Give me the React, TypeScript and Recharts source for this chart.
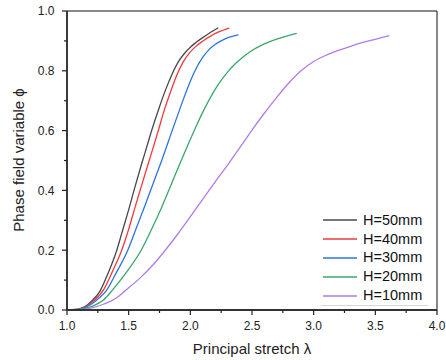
import React from 'react';
import { LineChart, Line, XAxis, YAxis, ReferenceArea, Legend } from 'recharts';

// stretch (x) and phase field (y), one pair of arrays per height
const h50X = [1.0, 1.08, 1.15, 1.2, 1.27, 1.33, 1.403, 1.45, 1.506, 1.55, 1.606, 1.65, 1.687, 1.75, 1.8, 1.85, 1.9, 1.95, 2.0, 2.05, 2.1, 2.15, 2.227];
const h50Y = [0, 0.002, 0.012, 0.03, 0.065, 0.12, 0.199, 0.265, 0.344, 0.41, 0.49, 0.55, 0.601, 0.68, 0.737, 0.787, 0.828, 0.857, 0.879, 0.896, 0.911, 0.925, 0.944];

const h40X = [1.0, 1.08, 1.15, 1.2, 1.3, 1.37, 1.443, 1.5, 1.552, 1.6, 1.659, 1.741, 1.79, 1.84, 1.89, 1.94, 1.99, 2.04, 2.1, 2.16, 2.23, 2.316];
const h40Y = [0, 0.002, 0.01, 0.025, 0.07, 0.13, 0.199, 0.27, 0.344, 0.41, 0.49, 0.601, 0.67, 0.73, 0.785, 0.828, 0.858, 0.88, 0.899, 0.915, 0.93, 0.943];

const h30X = [1.0, 1.08, 1.15, 1.2, 1.26, 1.319, 1.4, 1.492, 1.56, 1.633, 1.7, 1.768, 1.857, 1.9, 1.95, 2.0, 2.05, 2.1, 2.15, 2.2, 2.25, 2.3, 2.39];
const h30Y = [0, 0.002, 0.009, 0.02, 0.04, 0.065, 0.125, 0.199, 0.272, 0.35, 0.425, 0.5, 0.605, 0.655, 0.712, 0.765, 0.81, 0.845, 0.87, 0.888, 0.9, 0.91, 0.92];

const h20X = [1.0, 1.1, 1.2, 1.3, 1.365, 1.48, 1.6, 1.68, 1.768, 1.84, 1.916, 1.98, 2.052, 2.1, 2.15, 2.2, 2.25, 2.3, 2.36, 2.42, 2.5, 2.6, 2.7, 2.78, 2.863];
const h20Y = [0, 0.002, 0.012, 0.035, 0.065, 0.125, 0.199, 0.265, 0.344, 0.415, 0.49, 0.552, 0.619, 0.661, 0.701, 0.737, 0.768, 0.795, 0.822, 0.844, 0.868, 0.89, 0.906, 0.916, 0.925];

const h10X = [1.0, 1.1, 1.2, 1.3, 1.4, 1.473, 1.6, 1.7, 1.795, 1.9, 2.0, 2.1, 2.2, 2.3, 2.4, 2.5, 2.6, 2.7, 2.8, 2.9, 3.0, 3.1, 3.2, 3.3, 3.43, 3.614];
const h10Y = [0, 0.001, 0.007, 0.02, 0.04, 0.065, 0.11, 0.152, 0.199, 0.255, 0.312, 0.37, 0.428, 0.484, 0.542, 0.602, 0.658, 0.711, 0.76, 0.801, 0.831, 0.852, 0.868, 0.882, 0.898, 0.918];

const seriesNames = ['H=50mm', 'H=40mm', 'H=30mm', 'H=20mm', 'H=10mm'];
const seriesColors = ['#484848', '#f23a3c', '#2b74e2', '#3aa66c', '#b07ce8'];

const xTicks = [1.0, 1.25, 1.5, 1.75, 2.0, 2.25, 2.5, 2.75, 3.0, 3.25, 3.5, 3.75, 4.0];
const yTicks = [0, 0.1, 0.2, 0.3, 0.4, 0.5, 0.6, 0.7, 0.8, 0.9, 1.0];

const FONT = '"Liberation Sans", Arial, sans-serif';
const INK = '#222';

const toPoints = (xs: number[], ys: number[]) => xs.map((x, i) => ({ x, y: ys[i] }));

const series = [
  toPoints(h50X, h50Y),
  toPoints(h40X, h40Y),
  toPoints(h30X, h30Y),
  toPoints(h20X, h20Y),
  toPoints(h10X, h10Y),
];

const isMajor = (v: number, step: number) => Math.abs(v / step - Math.round(v / step)) < 1e-6;

// ticks drawn by hand so the minor ones can be shorter and unlabelled
const XTick = (props: any) => {
  const { x, y, payload } = props;
  const major = isMajor(payload.value, 0.5);
  return (
    <g>
      <line x1={x} x2={x} y1={y} y2={y + (major ? 5 : 3)} stroke={INK} strokeWidth={1.2} />
      {major && (
        <text x={x} y={y + 20} textAnchor="middle" fontSize={12} fill={INK} fontFamily={FONT}>
          {payload.value.toFixed(1)}
        </text>
      )}
    </g>
  );
};

const YTick = (props: any) => {
  const { x, y, payload } = props;
  const major = isMajor(payload.value, 0.2);
  return (
    <g>
      <line x1={x - (major ? 5 : 3)} x2={x} y1={y} y2={y} stroke={INK} strokeWidth={1.2} />
      {major && (
        <text x={x - 12.5} y={y + 4.3} textAnchor="end" fontSize={12} fill={INK} fontFamily={FONT}>
          {payload.value.toFixed(1)}
        </text>
      )}
    </g>
  );
};

const LegendBox = () => (
  <div
    style={{
      width: 107,
      borderBottom: '1.5px solid #d6d6d6',
      fontFamily: FONT,
      fontSize: 14.5,
      color: '#111',
    }}
  >
    {seriesNames.map((name, i) => (
      <div key={name} style={{ display: 'flex', alignItems: 'center', height: 18.9 }}>
        <svg width={37} height={4} style={{ display: 'block' }}>
          <line x1={2} x2={36} y1={2} y2={2} stroke={seriesColors[i]} strokeWidth={1.5} />
        </svg>
        <span style={{ marginLeft: 5, lineHeight: 1 }}>{name}</span>
      </div>
    ))}
  </div>
);

export default function App() {
  return (
    <div style={{ position: 'absolute', left: 0, top: 0, width: 446, height: 360, background: '#fff' }}>
      <LineChart width={446} height={360} margin={{ top: 11, right: 9, bottom: 0, left: 0 }}>
        <ReferenceArea x1={1} x2={4} y1={0} y2={1} fill="none" stroke="#111" strokeWidth={1} ifOverflow="visible" />
        <XAxis
          type="number"
          dataKey="x"
          domain={[1, 4]}
          ticks={xTicks}
          interval={0}
          allowDataOverflow
          height={50}
          tickSize={0}
          tickMargin={0}
          tickLine={false}
          tick={<XTick />}
          axisLine={{ stroke: '#333', strokeWidth: 1.8 }}
          label={{
            content: () => (
              <text x={252} y={354} textAnchor="middle" fontSize={15} fill={INK} fontFamily={FONT}>
                Principal stretch λ
              </text>
            ),
          }}
        />
        <YAxis
          type="number"
          domain={[0, 1]}
          ticks={yTicks}
          interval={0}
          allowDataOverflow
          width={67}
          tickSize={0}
          tickMargin={0}
          tickLine={false}
          tick={<YTick />}
          axisLine={{ stroke: '#333', strokeWidth: 1.8 }}
          label={{
            content: () => (
              <text
                x={24}
                y={160}
                transform="rotate(-90 24 160)"
                textAnchor="middle"
                fontSize={15}
                fill={INK}
                fontFamily={FONT}
              >
                Phase field variable ϕ
              </text>
            ),
          }}
        />
        {series.map((pts, i) => (
          <Line
            key={seriesNames[i]}
            data={pts}
            dataKey="y"
            name={seriesNames[i]}
            type="monotone"
            stroke={seriesColors[i]}
            strokeWidth={1.3}
            dot={false}
            activeDot={false}
            isAnimationActive={false}
          />
        ))}
        <Legend
          layout="vertical"
          align="center"
          verticalAlign="middle"
          content={<LegendBox />}
          wrapperStyle={{ position: 'absolute', left: 321, top: 210.5, width: 'auto' }}
        />
      </LineChart>
    </div>
  );
}
